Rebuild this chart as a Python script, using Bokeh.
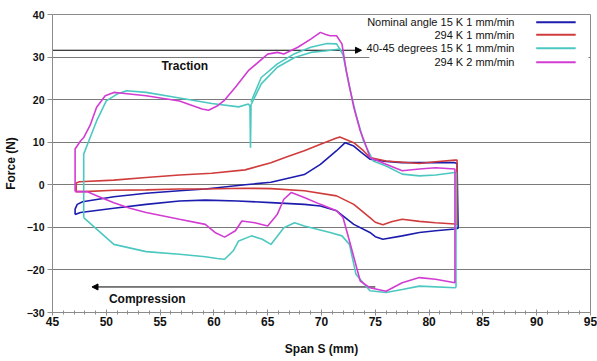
from bokeh.plotting import figure
from bokeh.embed import file_html
from bokeh.resources import INLINE
from bokeh.models import (Arrow, NormalHead, Label, BoxAnnotation,
                          SingleIntervalTicker, Range1d)

# ---------------- data ----------------
series_names = ["Nominal angle 15 K 1 mm/min", "294 K 1 mm/min",
                "40-45 degrees 15 K 1 mm/min", "294 K 2 mm/min"]
series_colors = ["#1c1cae", "#d03c3c", "#4cc8c0", "#d23cd2"]

blue_x = [47.1, 47.1, 47.3, 47.8, 50.7, 53.7, 56.8, 59.2, 62.9, 65.3, 68.4, 69.9,
          71.4, 72.2, 73.0, 73.7, 74.5, 76.0, 77.5, 80.6, 82.4, 82.6, 82.7, 82.4,
          80.6, 79.1, 77.5, 75.7, 75.0, 74.5, 73.0, 71.4, 69.9, 68.4, 65.3, 62.2,
          59.2, 56.8, 53.7, 50.7, 47.6, 47.1]
blue_y = [-7.0, -5.7, -4.6, -4.0, -2.8, -2.0, -1.4, -1.0, 0.0, 0.6, 2.4, 4.8,
          8.0, 9.9, 9.1, 7.6, 6.0, 5.5, 5.2, 5.2, 5.2, 5.0, -10.2, -10.4,
          -10.8, -11.2, -12.0, -12.8, -12.2, -11.2, -9.3, -6.1, -5.0, -4.6, -4.2, -3.8,
          -3.6, -3.8, -4.6, -5.5, -6.5, -7.0]

red_x = [47.2, 47.2, 47.5, 50.7, 53.7, 56.8, 59.8, 62.9, 65.3, 66.8, 68.4, 69.9,
         71.4, 71.7, 73.0, 73.9, 74.5, 76.0, 79.1, 80.6, 82.4, 82.6, 82.6, 82.4,
         80.6, 79.1, 77.5, 76.5, 75.7, 75.0, 74.5, 73.0, 71.4, 68.4, 65.3, 62.9,
         59.2, 56.8, 53.7, 50.7, 48.0, 47.2]
red_y = [-1.6, 0.4, 0.7, 1.1, 1.7, 2.3, 2.7, 3.5, 5.2, 6.6, 8.0, 9.5,
         11.0, 11.2, 9.9, 8.0, 6.4, 5.6, 5.0, 5.4, 5.8, 5.8, -9.3, -9.2,
         -8.9, -8.6, -8.1, -8.7, -9.4, -8.8, -7.7, -4.6, -2.6, -1.4, -0.9, -0.8,
         -1.0, -1.0, -1.2, -1.3, -1.6, -1.6]

cyan_x = [47.9, 47.9, 48.5, 49.1, 50.0, 51.0, 51.9, 53.7, 56.8, 59.8, 62.3, 63.2,
          63.35, 63.4, 63.45, 64.4, 65.9, 67.5, 69.0, 70.5, 71.7, 72.0, 72.6, 73.2,
          73.9, 74.2, 74.8, 76.0, 77.5, 79.1, 80.6, 82.4, 82.5, 82.5, 82.4, 79.1,
          77.5, 76.0, 74.5, 73.2, 72.6, 71.9, 70.8, 68.4, 67.5, 66.5, 65.3, 64.5,
          63.5, 62.3, 61.8, 61.0, 60.3, 59.2, 56.8, 53.7, 50.7, 49.1, 47.9]
cyan_y = [-7.7, 7.2, 11.1, 15.0, 19.7, 21.3, 22.1, 21.7, 20.4, 19.1, 18.3, 19.0,
          18.5, 8.7, 18.8, 23.7, 27.6, 29.9, 31.1, 31.5, 31.9, 30.5, 22.9, 16.6,
          10.3, 8.7, 5.6, 4.4, 2.5, 2.1, 2.3, 2.9, 2.9, -24.0, -24.2, -23.8,
          -24.6, -25.3, -24.9, -21.0, -14.0, -12.0, -11.2, -9.7, -8.9, -10.1, -14.0, -12.8,
          -12.0, -13.2, -15.5, -17.5, -17.3, -16.9, -16.3, -15.7, -14.0, -10.4, -7.7]
cyan2_x = [63.45, 64.4, 65.9, 67.5, 69.0, 70.5, 71.4, 71.9]
cyan2_y = [19.5, 25.2, 28.4, 30.8, 32.3, 33.2, 33.1, 31.1]

mag_x = [47.1, 47.1, 47.6, 47.9, 48.5, 49.1, 49.9, 50.7, 51.5, 53.7, 56.8, 58.9,
         59.5, 60.3, 61.0, 62.0, 63.2, 65.0, 65.9, 66.5, 67.8, 69.0, 69.9, 70.4,
         70.8, 71.4, 71.9, 72.3, 73.0, 73.6, 74.2, 74.5, 76.0, 77.5, 79.1, 80.6,
         82.4, 82.4, 80.6, 79.1, 77.5, 76.0, 74.5, 73.6, 72.6, 72.0, 71.4, 69.9,
         68.4, 67.2, 66.5, 65.9, 65.0, 63.8, 62.6, 62.0, 61.0, 60.1, 59.2, 56.8,
         53.7, 52.2, 50.7, 49.1, 48.2, 47.1]
mag_y = [-1.6, 8.4, 10.3, 11.1, 14.0, 18.2, 20.9, 21.7, 21.5, 20.9, 19.7, 17.8,
         17.5, 18.5, 19.9, 22.9, 26.8, 30.7, 31.1, 30.7, 32.3, 34.2, 35.8, 35.3,
         35.0, 35.0, 33.1, 26.8, 18.2, 12.7, 8.7, 6.4, 4.8, 3.3, 3.7, 4.0,
         3.7, -23.0, -22.2, -21.8, -23.0, -25.0, -24.2, -22.6, -13.2, -7.7, -6.1, -4.6,
         -3.0, -1.8, -3.4, -6.9, -9.7, -8.9, -8.5, -10.8, -12.3, -11.2, -9.3, -8.1,
         -6.5, -5.5, -4.2, -2.6, -1.6, -1.6]

x_ticks_interval = 5
y_ticks_interval = 10

# ---------------- figure ----------------
W, H = 597, 361
L, R, T, B = 45, 7, 14, 49
p = figure(width=W, height=H, output_backend="svg", toolbar_location=None,
           x_range=Range1d(45, 95), y_range=Range1d(-30, 40),
           min_border_left=L, min_border_right=R, min_border_top=T, min_border_bottom=B)
p.background_fill_color = "white"
p.border_fill_color = "white"
p.outline_line_color = "#8c8c8c"
p.outline_line_width = 1

FW, FH = W - L - R, H - T - B
def px2x(px):
    return 45 + (px - L) * 50.0 / FW
def px2y(py):
    return 40 - (py - T) * 70.0 / FH

FONT = "Liberation Sans"
gray = "#8c8c8c"

p.xgrid.grid_line_color = None
p.ygrid.grid_line_color = "#7a7a7a"
p.ygrid.grid_line_width = 1

p.xaxis.ticker = SingleIntervalTicker(interval=x_ticks_interval, num_minor_ticks=5)
p.yaxis.ticker = SingleIntervalTicker(interval=y_ticks_interval, num_minor_ticks=0)
for ax in (p.xaxis[0], p.yaxis[0]):
    ax.axis_line_color = gray
    ax.major_tick_line_color = gray
    ax.minor_tick_line_color = gray
    ax.major_label_text_font = FONT
    ax.major_label_text_font_style = "bold"
    ax.major_label_text_color = "#111111"
    ax.axis_label_text_font = FONT
    ax.axis_label_text_font_style = "bold"
    ax.axis_label_text_font_size = "12px"
    ax.axis_label_text_color = "#111111"

p.xaxis.axis_label = "Span S (mm)"
p.xaxis.major_label_text_font_size = "12px"
p.xaxis.major_tick_in = 3
p.xaxis.major_tick_out = 3
p.xaxis.minor_tick_in = 2
p.xaxis.minor_tick_out = 2
p.xaxis.major_label_standoff = 1
p.xaxis.axis_label_standoff = 13

p.yaxis.axis_label = "Force (N)"
p.yaxis.major_label_text_font_size = "10.5px"
p.yaxis.major_tick_in = 0
p.yaxis.major_tick_out = 5
p.yaxis.minor_tick_line_color = None
p.yaxis.major_label_standoff = 3
p.yaxis.axis_label_standoff = 6

# arrows (behind the curves)
p.add_layout(Arrow(x_start=45, y_start=31.6, x_end=px2x(358), y_end=31.6,
                   line_color="black", line_width=1, level="underlay",
                   end=NormalHead(size=6, fill_color="black", line_color="black")))
p.add_layout(Arrow(x_start=px2x(372), y_start=-24.0, x_end=px2x(85), y_end=-24.0,
                   line_color="black", line_width=1, level="underlay",
                   end=NormalHead(size=6, fill_color="black", line_color="black")))

# curves
lw = 1.6
p.line(blue_x, blue_y, line_color=series_colors[0], line_width=lw)
p.line(red_x, red_y, line_color=series_colors[1], line_width=lw)
p.line(cyan_x, cyan_y, line_color=series_colors[2], line_width=lw)
p.line(cyan2_x, cyan2_y, line_color=series_colors[2], line_width=lw)
p.line(mag_x, mag_y, line_color=series_colors[3], line_width=lw)

# text labels
p.add_layout(Label(x=px2x(179), y=px2y(65), text="Traction", text_font=FONT,
                   text_font_style="bold", text_font_size="12px", text_align="center",
                   text_baseline="middle", text_color="#111111"))
p.add_layout(Label(x=px2x(141), y=px2y(298), text="Compression", text_font=FONT,
                   text_font_style="bold", text_font_size="12px", text_align="center",
                   text_baseline="middle", text_color="#111111"))

# legend (label left, sample line right)
p.add_layout(BoxAnnotation(left=px2x(366), right=px2x(588), top=px2y(15), bottom=px2y(70),
                           fill_color="white", fill_alpha=1.0, line_color=None))
rows = [21.7, 34.3, 47.7, 61.7]
for name, col, ry in zip(series_names, series_colors, rows):
    p.add_layout(Label(x=px2x(513), y=px2y(ry), text=name, text_font=FONT,
                       text_font_size="11px", text_align="right", text_baseline="middle",
                       text_color="#111111"))
    p.add_layout(Arrow(x_start=px2x(535), y_start=px2y(ry), x_end=px2x(575), y_end=px2y(ry),
                       line_color=col, line_width=2, start=None, end=None))

open("out.html", "w").write(file_html(p, INLINE))
